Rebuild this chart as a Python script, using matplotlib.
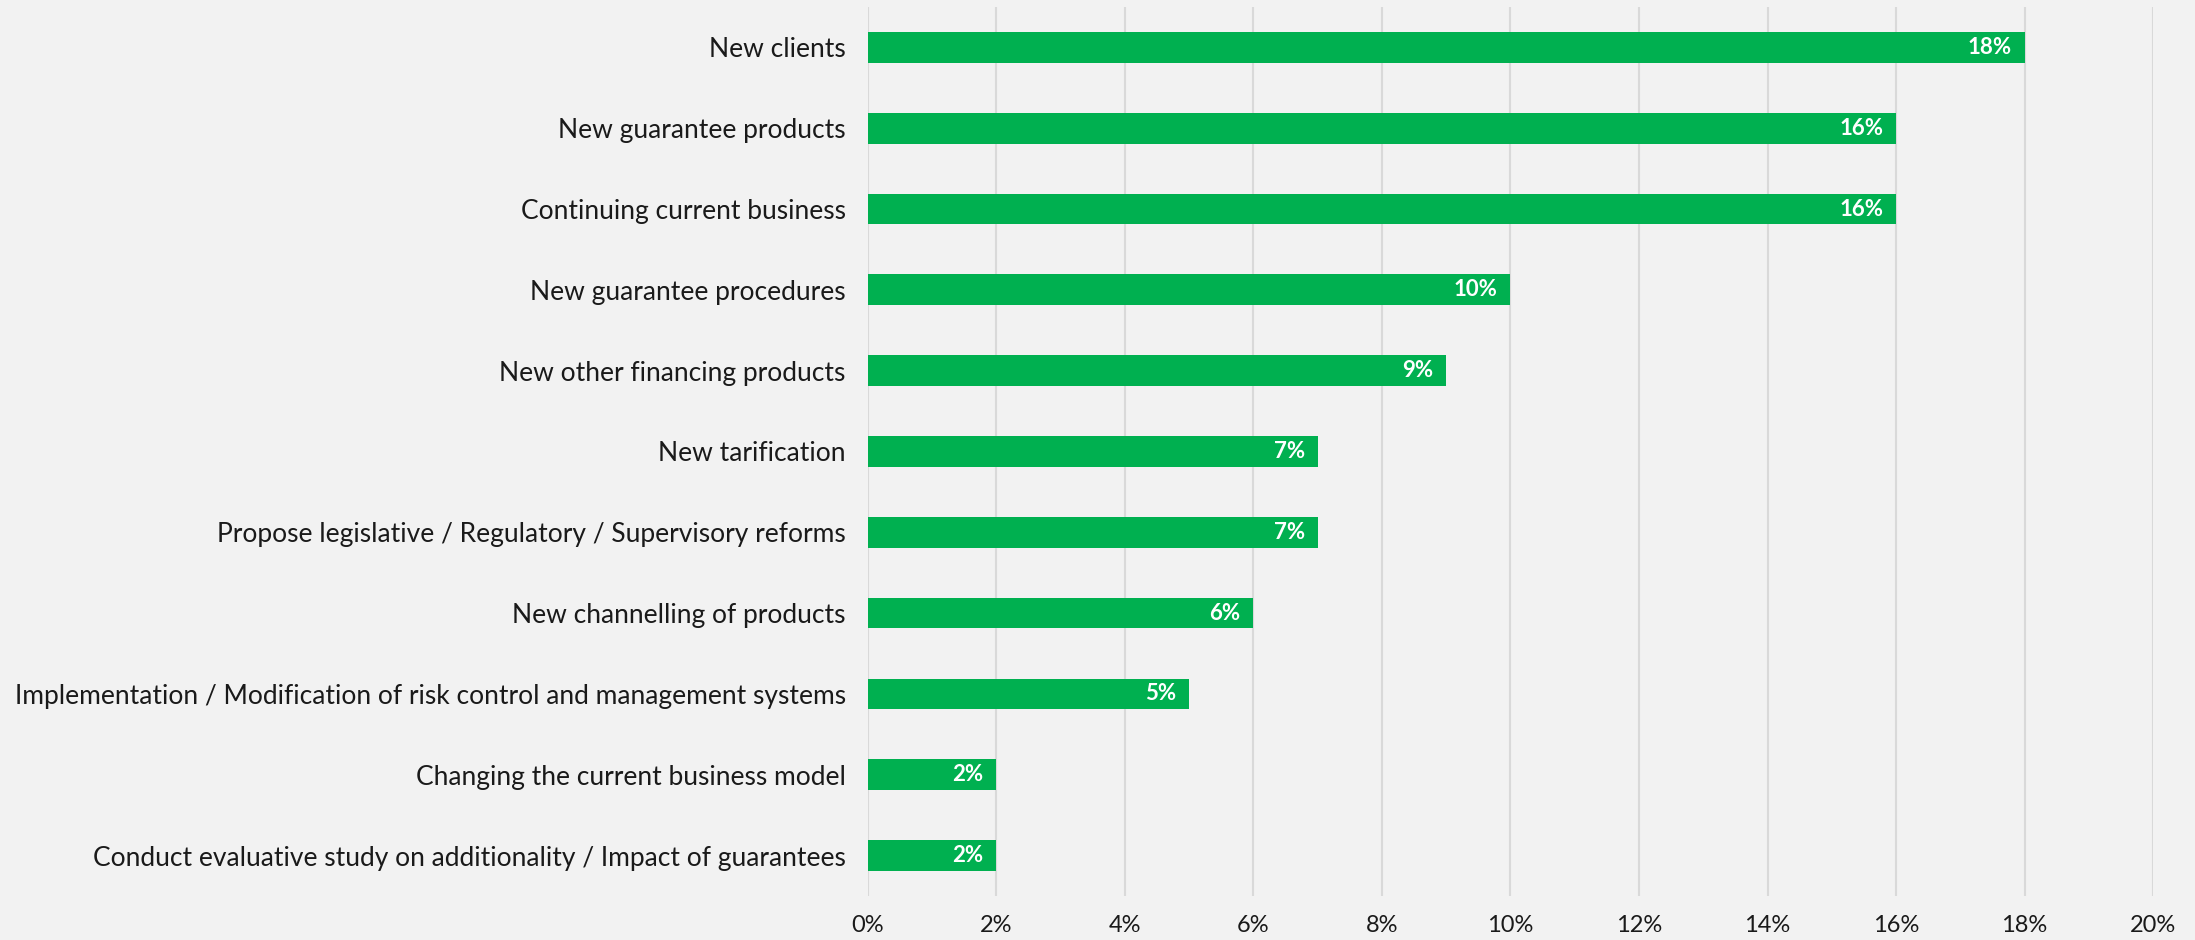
import matplotlib.pyplot as plt
from matplotlib.ticker import FuncFormatter

plt.rcParams['font.family'] = ['Lato', 'DejaVu Sans']

categories = [
    "New clients",
    "New guarantee products",
    "Continuing current business",
    "New guarantee procedures",
    "New other financing products",
    "New tarification",
    "Propose legislative / Regulatory / Supervisory reforms",
    "New channelling of products",
    "Implementation / Modification of risk control and management systems",
    "Changing the current business model",
    "Conduct evaluative study on additionality / Impact of guarantees",
]
shares = [18, 16, 16, 10, 9, 7, 7, 6, 5, 2, 2]
x_ticks = [0, 2, 4, 6, 8, 10, 12, 14, 16, 18, 20]

bg = "#F2F2F2"
green = "#00B050"
grid_col = "#D9D9D9"

fig = plt.figure(figsize=(21.95, 9.4), dpi=100, facecolor=bg)
ax = fig.add_axes([0.3954, 0.0468, 0.5855, 0.9458], facecolor=bg)

ypos = list(range(len(categories)))
ax.barh(ypos, shares, height=0.38, color=green, zorder=3)

# value labels sit inside the bar end
for y, v in zip(ypos, shares):
    ax.text(v - 0.2, y, f"{v}%", ha="right", va="center", color="white",
            fontsize=16, fontweight="bold", zorder=4)

ax.set_xlim(0, 20)
ax.set_ylim(len(categories) - 0.5, -0.5)
ax.set_xticks(x_ticks)
ax.xaxis.set_major_formatter(FuncFormatter(lambda v, p: f"{v:.0f}%"))
ax.set_yticks(ypos)
ax.set_yticklabels(categories)
ax.tick_params(axis="y", length=0, pad=16, labelsize=19, labelcolor="#1a1a1a")
ax.tick_params(axis="x", length=0, pad=14, labelsize=17, labelcolor="#1a1a1a")

ax.grid(axis="x", color=grid_col, linewidth=1.5, zorder=0)
ax.set_axisbelow(True)
for side in ["top", "right", "bottom", "left"]:
    ax.spines[side].set_visible(False)

fig.savefig("out.png", dpi=100, facecolor=bg)
